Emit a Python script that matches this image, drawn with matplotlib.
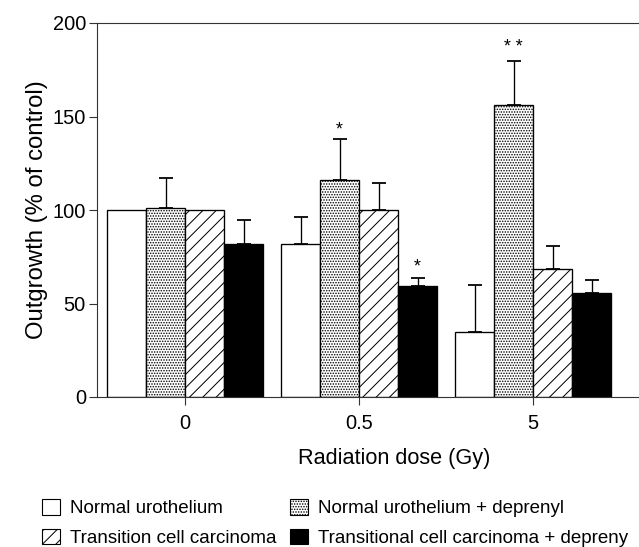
import numpy as np
import matplotlib
matplotlib.use("Agg")
import matplotlib.pyplot as plt
from matplotlib.patches import Patch

# values
doses = ["0", "0.5", "5"]
series = ["Normal urothelium", "Normal urothelium + deprenyl",
          "Transition cell carcinoma", "Transitional cell carcinoma + depreny"]
normal = [100, 82, 34.5]
normal_dep = [101, 116, 156]
tcc = [100, 100, 68.5]
tcc_dep = [82, 59.5, 55.5]
normal_err = [0, 14, 25.5]
normal_dep_err = [16, 22, 23.5]
tcc_err = [0, 14.5, 12.5]
tcc_dep_err = [12.5, 4, 7]
stars = [(1, 1, "*", 143), (1, 3, "*", 69.5), (2, 1, "* *", 187)]

DPI = 80
plt.rcParams["font.family"] = ["Liberation Sans", "DejaVu Sans"]
plt.rcParams["hatch.linewidth"] = 0.9

fig = plt.figure(figsize=(639 / DPI, 547 / DPI), dpi=DPI)
W, H = 639, 547
ax_left, ax_bottom, ax_w, ax_h = 97, 150, 594, 374
ax = fig.add_axes([ax_left / W, ax_bottom / H, ax_w / W, ax_h / H])

x = np.arange(len(doses))
w = 0.224
vals = [normal, normal_dep, tcc, tcc_dep]
errs = [normal_err, normal_dep_err, tcc_err, tcc_dep_err]
styles = [
    dict(facecolor="white", hatch=None),
    dict(facecolor="white", hatch="....."),
    dict(facecolor="white", hatch="//"),
    dict(facecolor="black", hatch=None),
]
for i in range(4):
    pos = x + (i - 1.5) * w
    ax.bar(pos, vals[i], width=w, edgecolor="black", linewidth=1.2, **styles[i])
    e = np.array(errs[i])
    mask = e > 0
    ax.errorbar(pos[mask], np.array(vals[i])[mask],
                yerr=[np.zeros(mask.sum()), e[mask]],
                fmt="none", ecolor="black", elinewidth=1.2, capsize=6, capthick=1.6)

for g, s, txt, yv in stars:
    ax.text(g + (s - 1.5) * w, yv, txt, ha="center", va="center", fontsize=16)

ax.set_ylim(0, 200)
ax.set_xlim(-0.506, -0.506 + ax_w / 174)
ax.set_yticks([0, 50, 100, 150, 200])
ax.set_xticks(x)
ax.set_xticklabels(doses)
for side in ["left", "top", "bottom", "right"]:
    ax.spines[side].set_color("#333333")
    ax.spines[side].set_linewidth(1.0)
ax.tick_params(direction="out", length=7, width=1.0, color="#333333",
               labelsize=18)
ax.tick_params(axis="x", pad=8)
ax.tick_params(axis="y", pad=3)
ax.set_ylabel("Outgrowth (% of control)", fontsize=21.5, labelpad=4)
ax.set_xlabel("Radiation dose (Gy)", fontsize=19.5, labelpad=14)

handles = [
    Patch(facecolor="white", edgecolor="black", label=series[0]),
    Patch(facecolor="white", edgecolor="black", hatch="//", label=series[2]),
    Patch(facecolor="white", edgecolor="black", hatch=".....", label=series[1]),
    Patch(facecolor="black", edgecolor="black", label=series[3]),
]
fig.legend(handles=handles, ncol=2, loc="upper left",
           bbox_to_anchor=(42 / W, 1 - 499 / H), frameon=False,
           fontsize=16.9, handlelength=0.95, handleheight=0.9,
           handletextpad=0.55, columnspacing=0.7, labelspacing=0.62,
           borderpad=0, borderaxespad=0)

fig.savefig("out.png", dpi=DPI)
